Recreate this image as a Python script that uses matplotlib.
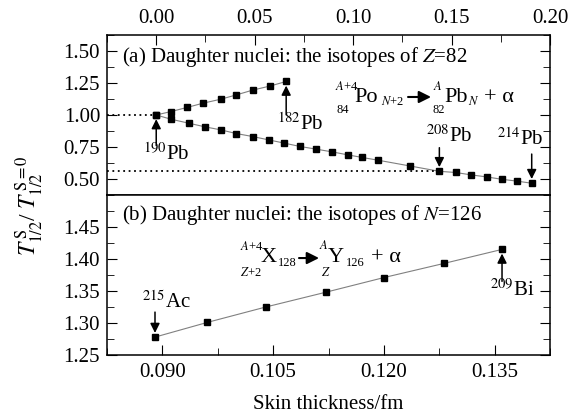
import matplotlib
matplotlib.use("Agg")
import matplotlib.pyplot as plt
from matplotlib.ticker import MultipleLocator, FormatStrFormatter

plt.rcParams["font.family"] = ["Liberation Serif", "DejaVu Sans"]
plt.rcParams["mathtext.fontset"] = "stix"
plt.rcParams["font.size"] = 15

# (a) daughter nuclei Z=82, branch 190Pb -> 182Pb
pb_up_x = [0.000, 0.0075, 0.0157, 0.0237, 0.0327, 0.0407, 0.0489, 0.0580, 0.0660]
pb_up_y = [1.000, 1.027, 1.059, 1.092, 1.123, 1.157, 1.194, 1.227, 1.262]
# branch 190Pb -> 214Pb
pb_down_x = [0.000, 0.0075, 0.0165, 0.0249, 0.0327, 0.0407, 0.0489, 0.0573,
             0.0651, 0.0731, 0.0813, 0.0893, 0.0975, 0.1047, 0.1126, 0.1288,
             0.1438, 0.1520, 0.1600, 0.1680, 0.1754, 0.1834, 0.1907]
pb_down_y = [1.000, 0.967, 0.936, 0.907, 0.884, 0.855, 0.832, 0.805,
             0.780, 0.754, 0.733, 0.712, 0.688, 0.668, 0.647, 0.602,
             0.560, 0.551, 0.532, 0.516, 0.498, 0.483, 0.467]

# (b) daughter nuclei N=126, 215Ac -> 209Bi
n126_x = [0.0890, 0.0961, 0.1040, 0.1121, 0.1200, 0.1281, 0.1360]
n126_y = [1.278, 1.301, 1.325, 1.348, 1.371, 1.393, 1.415]

fig = plt.figure(figsize=(5.86, 4.19), dpi=100)
ax1 = fig.add_axes([0.1826, 0.5346, 0.756, 0.3819])
ax2 = fig.add_axes([0.1826, 0.1527, 0.756, 0.3819])

line_kw = dict(color="#808080", lw=0.8, marker="s", mfc="k", mec="k", ms=4.5)
arrow_kw = dict(arrowstyle="-|>", color="k", lw=1.1, mutation_scale=14,
                shrinkA=0, shrinkB=3)
eq_arrow = dict(arrowstyle="-|>", color="k", lw=1.5, mutation_scale=18,
                shrinkA=0, shrinkB=0)
BIG, SMALL = 16, 9


def put(ax, x, y, s, size):
    ax.text(x, y, s, transform=ax.transAxes, fontsize=size, ha="left", va="baseline")


def eq_arrow_at(ax, x0, x1, y):
    ax.annotate("", xy=(x1, y), xytext=(x0, y), xycoords="axes fraction",
                textcoords="axes fraction", arrowprops=eq_arrow)


# ---- panel (a)
ax1.plot(pb_up_x, pb_up_y, **line_kw)
ax1.plot(pb_down_x, pb_down_y, **line_kw)
ax1.hlines(pb_down_y[0], -0.025, pb_down_x[0], colors="k", linestyles=(0, (1, 2)), lw=1.3)
ax1.hlines(pb_down_y[16], -0.025, pb_down_x[16], colors="k", linestyles=(0, (1, 2)), lw=1.3)
ax1.set_xlim(-0.025, 0.20)
ax1.set_ylim(0.375, 1.625)
ax1.xaxis.set_major_locator(MultipleLocator(0.05))
ax1.xaxis.set_minor_locator(MultipleLocator(0.025))
ax1.yaxis.set_major_locator(MultipleLocator(0.25))
ax1.yaxis.set_minor_locator(MultipleLocator(0.125))
ax1.xaxis.set_major_formatter(FormatStrFormatter("%.2f"))
ax1.yaxis.set_major_formatter(FormatStrFormatter("%.2f"))
ax1.tick_params(axis="x", which="both", direction="in", top=True, bottom=False,
                labeltop=True, labelbottom=False, pad=5)
ax1.tick_params(axis="y", which="both", direction="in", left=True, right=True, pad=5)
ax1.tick_params(which="major", length=7)
ax1.tick_params(which="minor", length=5)

ax1.text(0.034, 0.86, "(a) Daughter nuclei: the isotopes of $Z$=82",
         transform=ax1.transAxes, va="center", ha="left")
# A+4 Po(N+2) -> A Pb(N) + alpha
put(ax1, 0.5147, 0.656, "$A$+4", SMALL)
put(ax1, 0.519, 0.513, "84", SMALL)
put(ax1, 0.5575, 0.581, "Po", BIG)
put(ax1, 0.6185, 0.5625, "$N$+2", SMALL)
eq_arrow_at(ax1, 0.6795, 0.7314, 0.6125)
put(ax1, 0.7359, 0.656, "$A$", SMALL)
put(ax1, 0.7336, 0.513, "82", SMALL)
put(ax1, 0.762, 0.581, "Pb", BIG)
put(ax1, 0.8149, 0.5625, "$N$", SMALL)
put(ax1, 0.851, 0.581, "+ α", BIG)

ax1.annotate("", xy=(pb_down_x[0], pb_down_y[0]), xytext=(0, -22),
             textcoords="offset points", arrowprops=arrow_kw)
ax1.text(0.005, 0.694, r"$^{190}$Pb", ha="center", va="center")
ax1.annotate("", xy=(pb_up_x[-1], pb_up_y[-1]), xytext=(0, -24),
             textcoords="offset points", arrowprops=arrow_kw)
ax1.text(0.0731, 0.928, r"$^{182}$Pb", ha="center", va="center")
ax1.annotate("", xy=(pb_down_x[16], pb_down_y[16]), xytext=(0, 17),
             textcoords="offset points", arrowprops=arrow_kw)
ax1.text(0.1488, 0.834, r"$^{208}$Pb", ha="center", va="center")
ax1.annotate("", xy=(pb_down_x[-1], pb_down_y[-1]), xytext=(0, 21),
             textcoords="offset points", arrowprops=arrow_kw)
ax1.text(0.1846, 0.811, r"$^{214}$Pb", ha="center", va="center")

# ---- panel (b)
ax2.plot(n126_x, n126_y, color="#808080", lw=0.8, marker="s", mfc="k", mec="k", ms=4.8)
ax2.set_xlim(0.0825, 0.1425)
ax2.set_ylim(1.25, 1.50)
ax2.xaxis.set_major_locator(MultipleLocator(0.015))
ax2.xaxis.set_minor_locator(MultipleLocator(0.0075))
ax2.yaxis.set_minor_locator(MultipleLocator(0.025))
ax2.set_yticks([1.25, 1.30, 1.35, 1.40, 1.45])
ax2.xaxis.set_major_formatter(FormatStrFormatter("%.3f"))
ax2.yaxis.set_major_formatter(FormatStrFormatter("%.2f"))
ax2.tick_params(axis="x", which="both", direction="in", top=False, bottom=True, pad=6)
ax2.tick_params(axis="y", which="both", direction="in", left=True, right=True, pad=5)
ax2.tick_params(which="major", length=7)
ax2.tick_params(which="minor", length=5)

ax2.text(0.034, 0.875, "(b) Daughter nuclei: the isotopes of $N$=126",
         transform=ax2.transAxes, va="center", ha="left")
# A+4 X(128) -> A Y(126) + alpha
put(ax2, 0.3002, 0.656, "$A$+4", SMALL)
put(ax2, 0.3002, 0.494, "$Z$+2", SMALL)
put(ax2, 0.3476, 0.581, "X", BIG)
put(ax2, 0.386, 0.556, "128", SMALL)
eq_arrow_at(ax2, 0.4334, 0.4786, 0.606)
put(ax2, 0.479, 0.665, "$A$", SMALL)
put(ax2, 0.4831, 0.494, "$Z$", SMALL)
put(ax2, 0.4989, 0.581, "Y", BIG)
put(ax2, 0.5395, 0.556, "126", SMALL)
put(ax2, 0.5959, 0.581, "+ α", BIG)

ax2.annotate("", xy=(n126_x[0], n126_y[0]), xytext=(0, 18),
             textcoords="offset points", arrowprops=arrow_kw)
ax2.text(0.0906, 1.333, r"$^{215}$Ac", ha="center", va="center")
ax2.annotate("", xy=(n126_x[-1], n126_y[-1]), xytext=(0, -23),
             textcoords="offset points", arrowprops=arrow_kw)
ax2.text(0.1374, 1.351, r"$^{209}$Bi", ha="center", va="center")

ax2.set_xlabel("Skin thickness/fm", labelpad=9)
fig.text(0.051, 0.51, r"$T^{\,\mathrm{S}}_{1/2}$/ $T^{\,\mathrm{S}=0}_{1/2}$", rotation=90,
         ha="center", va="center", fontsize=17)

for ax in (ax1, ax2):
    for s in ax.spines.values():
        s.set_linewidth(1.1)

fig.savefig("out.png", dpi=100)
